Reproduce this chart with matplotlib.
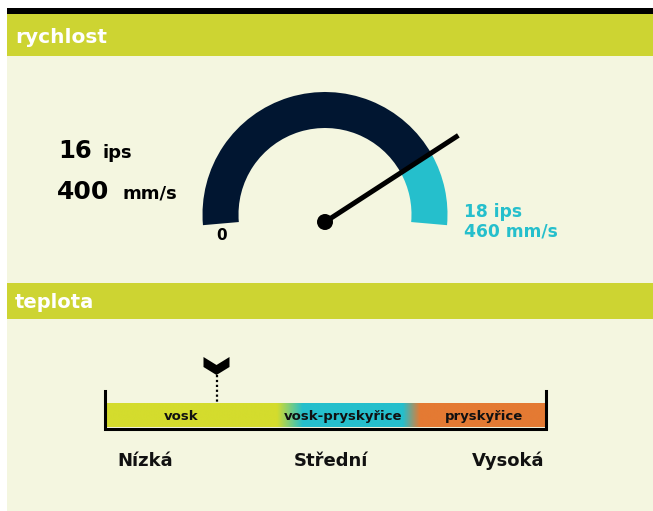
import numpy as np
import matplotlib
matplotlib.use("Agg")
import matplotlib.pyplot as plt
import matplotlib.patches as mpatches
import matplotlib.colors as clrs

plt.rcParams["font.family"] = ["DejaVu Sans"]

# %% Data

speed_ips = 16
speed_mm = 400
max_ips = 18
max_mm = 460
dial_max = 20.0        # full scale of the dial
teal_from = 16.4       # where the teal part of the dial starts

zone_names = ["vosk", "vosk-pryskyřice", "pryskyřice"]
zone_label_pos = [0.17, 0.538, 0.86]          # label centres, fraction of bar
grad_stops = [0.0, 0.388, 0.447, 0.676, 0.715, 1.0]
grad_cols = ["#d4dc2d", "#d4dc2d", "#25bfcc", "#25bfcc", "#e47a33", "#e47a33"]
levels = ["Nízká", "Střední", "Vysoká"]
level_pos = [0.087, 0.511, 0.915]
temp_marker = 0.25

# %% Colours

cream = "#f4f6e0"
head_green = "#cdd432"
navy = "#011631"
teal = "#25bfcc"

fig = plt.figure(figsize=(6.53, 5.11), dpi=100)
ax = fig.add_axes([0, 0, 1, 1])
ax.set_xlim(0, 653)
ax.set_ylim(511, 0)
ax.axis("off")

# page
ax.add_patch(mpatches.Rectangle((7, 14), 646, 497, color=cream, lw=0))
ax.add_patch(mpatches.Rectangle((7, 8.5), 646, 5.5, color="black", lw=0))
ax.add_patch(mpatches.Rectangle((7, 14), 646, 42, color=head_green, lw=0))
ax.add_patch(mpatches.Rectangle((7, 283), 646, 36, color=head_green, lw=0))
ax.text(15, 43, "rychlost", color="white", fontsize=14.5, fontweight="bold",
        va="baseline", ha="left")
ax.text(15, 308, "teplota", color="white", fontsize=14, fontweight="bold",
        va="baseline", ha="left")

# %% Gauge

cx, cy = 325, 214.5
r_out, w = 122.5, 36
a0, a1 = 185.0, -5.0   # screen angles of 0 and full scale


def val2ang(v):
    return a0 + (a1 - a0) * v / dial_max


a_teal = val2ang(teal_from)
# y axis is inverted, so screen angle a -> data angle -a
ax.add_patch(mpatches.Wedge((cx, cy), r_out, -a0, -a_teal, width=w,
                            color=navy, lw=0))
ax.add_patch(mpatches.Wedge((cx, cy), r_out, -a_teal, -a1, width=w,
                            color=teal, lw=0))

px, py = 325, 222
na = np.deg2rad(val2ang(speed_ips))
ax.plot([px, px + 159 * np.cos(na)], [py, py - 159 * np.sin(na)],
        color="black", lw=3.6, solid_capstyle="butt")
ax.add_patch(mpatches.Circle((px, py), 8, color="black", lw=0))

ax.text(58, 158, f"{speed_ips}", fontsize=17.5, fontweight="bold", ha="left",
        va="baseline", color="black")
ax.text(103, 158, "ips", fontsize=13, fontweight="bold", ha="left",
        va="baseline", color="black")
ax.text(57, 199, f"{speed_mm}", fontsize=18, fontweight="bold", ha="left",
        va="baseline", color="black")
ax.text(123, 199, "mm/s", fontsize=13, fontweight="bold", ha="left",
        va="baseline", color="black")
ax.text(222, 236, "0", fontsize=11, fontweight="bold", ha="center",
        va="center", color="black")
ax.text(464, 217, f"{max_ips} ips", fontsize=12.3, fontweight="bold",
        ha="left", va="baseline", color=teal)
ax.text(464, 237, f"{max_mm} mm/s", fontsize=12.3, fontweight="bold",
        ha="left", va="baseline", color=teal)

# %% Temperature bar

bx0, bx1 = 107, 545
by0, by1 = 403, 427
xs = np.linspace(0, 1, 600)
rgb = np.array([clrs.to_rgb(c) for c in grad_cols])
img = np.stack([np.interp(xs, grad_stops, rgb[:, k]) for k in range(3)],
               axis=-1)[None, :, :]
ax.imshow(img, extent=(bx0, bx1, by1, by0), aspect="auto",
          interpolation="bilinear", zorder=2)
ax.add_patch(mpatches.Rectangle((bx0 - 2, by0), 2, by1 - by0, color="#5a3a8a",
                                lw=0, zorder=2))
ax.plot([104.5, 104.5, 546, 546], [391, 429, 429, 391], color="black",
        lw=2.2, zorder=3, solid_joinstyle="miter")

for name, p in zip(zone_names, zone_label_pos):
    ax.text(bx0 + p * (bx1 - bx0), 420, name, fontsize=9.5,
            fontweight="bold", ha="center", va="baseline", color="#111111",
            zorder=4)

for name, p in zip(levels, level_pos):
    ax.text(bx0 + p * (bx1 - bx0), 466, name, fontsize=13,
            fontweight="bold", ha="center", va="baseline", color="#111111")

mx = bx0 + temp_marker * (bx1 - bx0)
chev = np.array([[-13, 357], [0, 365], [13, 357], [13, 367], [0, 375],
                 [-13, 367]], dtype=float)
chev[:, 0] += mx
ax.add_patch(mpatches.Polygon(chev, closed=True, color="black", lw=0))
ax.plot([mx, mx], [375, by0], color="black", lw=1.6, ls=(0, (1, 1.2)))

plt.savefig("out.png", dpi=100)
plt.close()
